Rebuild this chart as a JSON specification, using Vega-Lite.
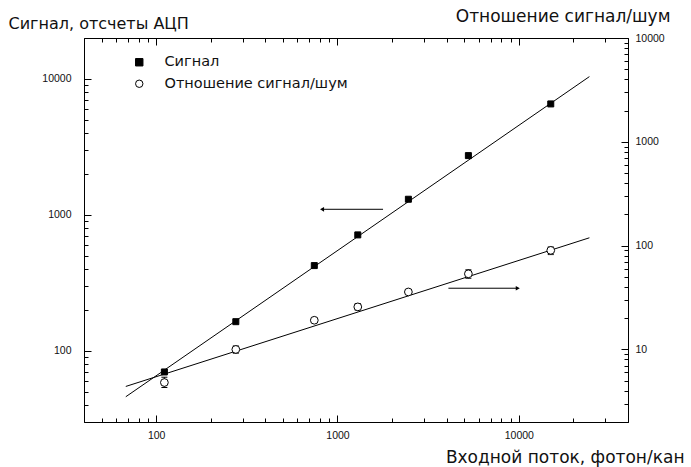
{
  "$schema": "https://vega.github.io/schema/vega-lite/v6.json",
  "width": 544,
  "height": 384,
  "autosize": "none",
  "padding": {"left": 84, "top": 38, "right": 63, "bottom": 45},
  "background": "white",
  "config": {
    "view": {"stroke": "#000", "strokeWidth": 1},
    "axis": {
      "domain": false,
      "grid": false,
      "ticks": true,
      "tickColor": "#000",
      "tickOpacity": 1,
      "tickWidth": 1,
      "labelFont": "Liberation Sans",
      "labelFontSize": 10.5,
      "labelColor": "#111",
      "labelOverlap": false,
      "labelFlush": false,
      "titleFont": "DejaVu Sans",
      "titleFontSize": 16,
      "titleFontWeight": "normal",
      "titleColor": "#111"
    },
    "legend": {
      "orient": "none", "legendX": 48, "legendY": 17, "symbolStrokeColor": "#000", "symbolStrokeWidth": 1, "symbolSize": 55, "labelOffset": 18, "rowPadding": 6.5, "labelLimit": 0, "labelFont": "DejaVu Sans", "labelFontSize": 14.5, "labelColor": "#111"
    }
  },
  "datasets": {
    "signal": [
      {"flux": 111, "value": 70, "series": "Сигнал"},
      {"flux": 275, "value": 164, "series": "Сигнал"},
      {"flux": 745, "value": 424, "series": "Сигнал"},
      {"flux": 1294, "value": 713, "series": "Сигнал"},
      {"flux": 2460, "value": 1304, "series": "Сигнал"},
      {"flux": 5270, "value": 2730, "series": "Сигнал"},
      {"flux": 15000, "value": 6550, "series": "Сигнал"}
    ],
    "signal_fit": [
      {"flux": 68, "value": 46},
      {"flux": 24500, "value": 10400}
    ],
    "snr": [
      {"flux": 111, "value": 4.8, "lo": 4.3, "hi": 5.4, "series": "Отношение сигнал/шум"},
      {"flux": 275, "value": 10.0, "lo": 9.2, "hi": 10.8, "series": "Отношение сигнал/шум"},
      {"flux": 745, "value": 19.1, "lo": 18.2, "hi": 20.0, "series": "Отношение сигнал/шум"},
      {"flux": 1294, "value": 25.7, "lo": 23.9, "hi": 27.7, "series": "Отношение сигнал/шум"},
      {"flux": 2460, "value": 35.8, "lo": 34.5, "hi": 37.0, "series": "Отношение сигнал/шум"},
      {"flux": 5270, "value": 53.5, "lo": 48.5, "hi": 58.5, "series": "Отношение сигнал/шум"},
      {"flux": 15000, "value": 90, "lo": 82, "hi": 97, "series": "Отношение сигнал/шум"}
    ],
    "snr_fit": [
      {"flux": 68, "value": 4.4},
      {"flux": 24500, "value": 119}
    ],
    "arrows": [
      {"from": 1783, "to": 822, "level": 1100, "dir": "left"},
      {"from": 4090, "to": 9870, "level": 289, "dir": "right"}
    ]
  },
  "layer": [
    {
      "resolve": {"axis": {"x": "independent", "y": "independent"}},
      "layer": [
        {
          "data": {"name": "signal_fit"},
          "mark": {"type": "line", "color": "#000", "strokeWidth": 1},
          "encoding": {
            "x": {
              "field": "flux", "type": "quantitative",
              "scale": {"type": "log", "domain": [40, 40000], "nice": false},
              "axis": {
                "orient": "bottom",
                "values": [100, 1000, 10000],
                "labelExpr": "'' + datum.value",
                "tickColor": "#000",
                "tickSize": -7,
                "labelPadding": 15,
                "title": "Входной поток, фотон/кан",
                "titleFontSize": 17,
                "titleAlign": "right",
                "titleBaseline": "alphabetic",
                "titleX": 600,
                "titleY": 40
              }
            },
            "y": {
              "field": "value", "type": "quantitative",
              "scale": {"type": "log", "domain": [30, 20000], "nice": false},
              "axis": {
                "orient": "left",
                "values": [100, 1000, 10000],
                "labelExpr": "'' + datum.value",
                "tickColor": "#000",
                "tickSize": -7,
                "labelPadding": 20,
                "title": "Сигнал, отсчеты АЦП",
                "titleAngle": 0,
                "titleAlign": "left",
                "titleBaseline": "alphabetic",
                "titleX": -76,
                "titleY": -10
              }
            }
          }
        },
        {
          "data": {"name": "arrows"},
          "mark": {"type": "rule", "color": "#000", "strokeWidth": 1},
          "encoding": {
            "x": {
              "field": "from", "type": "quantitative",
              "scale": {"type": "log", "domain": [40, 40000], "nice": false},
              "axis": {
                "orient": "bottom",
                "values": [40,50,60,70,80,90,200,300,400,500,600,700,800,900,2000,3000,4000,5000,6000,7000,8000,9000,20000,30000,40000],
                "labels": false,
                "tickColor": "#000",
                "tickSize": -4,
                "title": null
              }
            },
            "x2": {"field": "to"},
            "y": {
              "field": "level", "type": "quantitative",
              "scale": {"type": "log", "domain": [30, 20000], "nice": false},
              "axis": {
                "orient": "left",
                "values": [30,40,50,60,70,80,90,200,300,400,500,600,700,800,900,2000,3000,4000,5000,6000,7000,8000,9000,20000],
                "labels": false,
                "tickColor": "#000",
                "tickSize": -4,
                "title": null
              }
            }
          }
        },
        {
          "data": {"name": "arrows"},
          "transform": [{"filter": "datum.dir == 'left'"}],
          "mark": {"type": "point", "shape": "triangle-left", "filled": true, "color": "#000", "size": 22, "opacity": 1},
          "encoding": {
            "x": {"field": "to", "type": "quantitative", "scale": {"type": "log", "domain": [40, 40000], "nice": false}, "axis": null},
            "y": {"field": "level", "type": "quantitative", "scale": {"type": "log", "domain": [30, 20000], "nice": false}, "axis": null}
          }
        },
        {
          "data": {"name": "arrows"},
          "transform": [{"filter": "datum.dir == 'right'"}],
          "mark": {"type": "point", "shape": "triangle-right", "filled": true, "color": "#000", "size": 22, "opacity": 1},
          "encoding": {
            "x": {"field": "to", "type": "quantitative", "scale": {"type": "log", "domain": [40, 40000], "nice": false}, "axis": null},
            "y": {"field": "level", "type": "quantitative", "scale": {"type": "log", "domain": [30, 20000], "nice": false}, "axis": null}
          }
        },
        {
          "data": {"name": "signal"},
          "mark": {"type": "point", "filled": true, "strokeWidth": 1, "size": 36, "opacity": 1},
          "encoding": {
            "x": {"field": "flux", "type": "quantitative", "scale": {"type": "log", "domain": [40, 40000], "nice": false}, "axis": null},
            "y": {"field": "value", "type": "quantitative", "scale": {"type": "log", "domain": [30, 20000], "nice": false}, "axis": null},
            "shape": {
              "field": "series", "type": "nominal",
              "scale": {"domain": ["Сигнал", "Отношение сигнал/шум"], "range": ["square", "circle"]},
              "legend": {"title": null}
            },
            "fill": {
              "field": "series", "type": "nominal",
              "scale": {"domain": ["Сигнал", "Отношение сигнал/шум"], "range": ["#000", "#fff"]},
              "legend": {"title": null}
            },
            "stroke": {
              "field": "series", "type": "nominal",
              "scale": {"domain": ["Сигнал", "Отношение сигнал/шум"], "range": ["#000", "#000"]},
              "legend": {"title": null}
            }
          }
        }
      ]
    },
    {
      "resolve": {"axis": {"x": "independent", "y": "independent"}},
      "layer": [
        {
          "data": {"name": "snr_fit"},
          "mark": {"type": "line", "color": "#000", "strokeWidth": 1},
          "encoding": {
            "x": {
              "field": "flux", "type": "quantitative",
              "scale": {"type": "log", "domain": [40, 40000], "nice": false},
              "axis": {
                "orient": "top",
                "values": [100, 1000, 10000],
                "labels": false,
                "tickColor": "#000",
                "tickSize": -7,
                "title": null
              }
            },
            "y": {
              "field": "value", "type": "quantitative",
              "scale": {"type": "log", "domain": [2, 10000], "nice": false},
              "axis": {
                "orient": "right",
                "values": [10, 100, 1000, 10000],
                "labelExpr": "'' + datum.value",
                "tickColor": "#000",
                "tickSize": -7,
                "labelPadding": 14,
                "title": "Отношение сигнал/шум",
                "titleFontSize": 17,
                "titleAngle": 0,
                "titleAlign": "right",
                "titleBaseline": "alphabetic",
                "titleX": 42,
                "titleY": -17
              }
            }
          }
        },
        {
          "data": {"name": "snr"},
          "mark": {"type": "rule", "color": "#000", "strokeWidth": 1},
          "encoding": {
            "x": {
              "field": "flux", "type": "quantitative",
              "scale": {"type": "log", "domain": [40, 40000], "nice": false},
              "axis": {
                "orient": "top",
                "values": [40,50,60,70,80,90,200,300,400,500,600,700,800,900,2000,3000,4000,5000,6000,7000,8000,9000,20000,30000,40000],
                "labels": false,
                "tickColor": "#000",
                "tickSize": -4,
                "title": null
              }
            },
            "y": {
              "field": "lo", "type": "quantitative",
              "scale": {"type": "log", "domain": [2, 10000], "nice": false},
              "axis": {
                "orient": "right",
                "values": [2,3,4,5,6,7,8,9,20,30,40,50,60,70,80,90,200,300,400,500,600,700,800,900,2000,3000,4000,5000,6000,7000,8000,9000],
                "labels": false,
                "tickColor": "#000",
                "tickSize": -4,
                "title": null
              }
            },
            "y2": {"field": "hi"}
          }
        },
        {
          "data": {"name": "snr"},
          "transform": [{"fold": ["lo", "hi"], "as": ["end", "bound"]}],
          "mark": {"type": "tick", "orient": "horizontal", "color": "#000", "size": 6, "thickness": 1, "opacity": 1},
          "encoding": {
            "x": {"field": "flux", "type": "quantitative", "scale": {"type": "log", "domain": [40, 40000], "nice": false}, "axis": null},
            "y": {"field": "bound", "type": "quantitative", "scale": {"type": "log", "domain": [2, 10000], "nice": false}, "axis": null}
          }
        },
        {
          "data": {"name": "snr"},
          "mark": {"type": "point", "filled": true, "strokeWidth": 1, "size": 60, "opacity": 1},
          "encoding": {
            "x": {"field": "flux", "type": "quantitative", "scale": {"type": "log", "domain": [40, 40000], "nice": false}, "axis": null},
            "y": {"field": "value", "type": "quantitative", "scale": {"type": "log", "domain": [2, 10000], "nice": false}, "axis": null},
            "shape": {
              "field": "series", "type": "nominal",
              "scale": {"domain": ["Сигнал", "Отношение сигнал/шум"], "range": ["square", "circle"]},
              "legend": {"title": null}
            },
            "fill": {
              "field": "series", "type": "nominal",
              "scale": {"domain": ["Сигнал", "Отношение сигнал/шум"], "range": ["#000", "#fff"]},
              "legend": {"title": null}
            },
            "stroke": {
              "field": "series", "type": "nominal",
              "scale": {"domain": ["Сигнал", "Отношение сигнал/шум"], "range": ["#000", "#000"]},
              "legend": {"title": null}
            }
          }
        }
      ]
    }
  ],
  "resolve": {"scale": {"y": "independent"}}
}
